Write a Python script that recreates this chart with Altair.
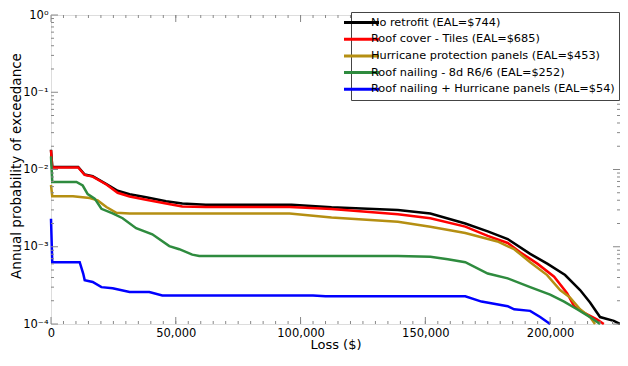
import altair as alt
import pandas as pd

series_names = [
    "No retrofit (EAL=$744)",
    "Roof cover - Tiles (EAL=$685)",
    "Hurricane protection panels (EAL=$453)",
    "Roof nailing - 8d R6/6 (EAL=$252)",
    "Roof nailing + Hurricane panels (EAL=$54)",
]
series_colors = ["#000000", "#ff0000", "#b58f12", "#2e8b3e", "#0000ff"]

black_loss = [0, 500, 10900, 13500, 16700, 22200, 26700, 31500, 38100, 46100, 52600, 62000, 96400, 112400,
              139000, 152000, 166000, 175000, 183000, 192000, 199000, 206000, 212000, 216000, 220000, 225500, 228000]
black_p = [0.018, 0.0108, 0.0108, 0.0086, 0.0082, 0.00646, 0.0053, 0.00479, 0.00437, 0.00389, 0.00363, 0.0035,
           0.0035, 0.00324, 0.00299, 0.00269, 0.0020, 0.00158, 0.00126, 0.00081, 0.0006, 0.00043, 0.000275,
           0.00019, 0.000123, 0.00011, 0.0001]

red_loss = [0, 500, 10900, 13500, 16700, 22200, 26700, 31500, 38100, 46100, 52600, 62000, 95600, 112400,
            139000, 152000, 166000, 175000, 183000, 188000, 195000, 201600, 206800, 209600, 213500, 218700, 221500]
red_p = [0.0178, 0.0106, 0.0106, 0.0085, 0.0081, 0.0064, 0.0050, 0.00447, 0.00407, 0.00363, 0.00331, 0.00327,
         0.00327, 0.00309, 0.00263, 0.00234, 0.00182, 0.00138, 0.00112, 0.00085, 0.0006, 0.00041, 0.00025,
         0.00017, 0.00014, 0.000115, 0.0001]

gold_loss = [0, 500, 8800, 15500, 18700, 22200, 26200, 31500, 95600, 112400, 139000, 152000, 166000, 178900,
             185600, 192000, 198800, 204000, 208000, 212000, 216000, 218000]
gold_p = [0.0063, 0.0045, 0.0045, 0.00427, 0.00398, 0.00327, 0.00275, 0.00269, 0.00269, 0.0024, 0.00211,
          0.00182, 0.00151, 0.00117, 0.00093, 0.00063, 0.00043, 0.000275, 0.00022, 0.000155, 0.000123, 0.0001]

green_loss = [0, 500, 10200, 12700, 14700, 17500, 20200, 24700, 28700, 34100, 40600, 47400, 51400, 56600,
              59400, 139000, 152000, 159000, 166000, 175000, 183000, 192000, 200000, 205600, 210800, 216000, 220000]
green_p = [0.0148, 0.0069, 0.0069, 0.0062, 0.0048, 0.0042, 0.0031, 0.0027, 0.00234, 0.00174, 0.00145, 0.00102,
           0.00093, 0.00079, 0.00076, 0.00076, 0.00074, 0.00069, 0.00063, 0.00045, 0.00039, 0.0003, 0.00024,
           0.000195, 0.000155, 0.000123, 0.0001]

blue_loss = [0, 500, 11500, 12900, 13500, 16700, 20200, 24700, 31500, 39400, 44600, 105000, 110000, 166000,
             172500, 183000, 185600, 192000, 196000, 200000]
blue_p = [0.0023, 0.00063, 0.00063, 0.00045, 0.00037, 0.00035, 0.0003, 0.00029, 0.00026, 0.00026, 0.000234,
          0.000234, 0.000228, 0.000228, 0.000195, 0.00017, 0.000155, 0.000148, 0.000123, 0.0001]

x_major = [0, 50000, 100000, 150000, 200000]
x_minor = list(range(5000, 228000, 5000))
y_major = [1e-4, 1e-3, 1e-2, 1e-1, 1.0]
y_minor = [k * 10.0 ** e for e in (-4, -3, -2, -1) for k in range(2, 10)]

rows = []
for name, xs, ps in zip(series_names,
                        [black_loss, red_loss, gold_loss, green_loss, blue_loss],
                        [black_p, red_p, gold_p, green_p, blue_p]):
    for i, (x, p) in enumerate(zip(xs, ps)):
        rows.append({"series": name, "loss": x, "prob": p, "i": i})
df = pd.DataFrame(rows)

W, H = 569, 309
FONT = "DejaVu Sans"
xscale = alt.Scale(domain=[0, 228000], nice=False, zero=False)
yscale = alt.Scale(type="log", domain=[1e-4, 1], nice=False)

label_expr = ("datum.value >= 1 ? '10\u2070' : datum.value >= 0.1 ? '10\u207b\u00b9' : "
              "datum.value >= 0.01 ? '10\u207b\u00b2' : datum.value >= 0.001 ? '10\u207b\u00b3' : '10\u207b\u2074'")

x_axis = alt.Axis(values=x_major, labelExpr="format(datum.value, ',')", ticks=False, domain=False, grid=False,
                  labelFlush=False, labelFontSize=11.5, labelFont=FONT, labelPadding=3, labelColor="#000",
                  titleFontSize=13, titleFont=FONT, titleFontWeight="normal", titleColor="#000",
                  titleY=20, titleBaseline="middle")
y_axis = alt.Axis(values=y_major, labelExpr=label_expr, ticks=False, domain=False, grid=False,
                  labelFlush=False, labelFontSize=11.5, labelFont=FONT, labelPadding=3, labelColor="#000",
                  titleFontSize=13.5, titleFont=FONT, titleFontWeight="normal", titleColor="#000",
                  titleX=-35, titleY=H / 2 - 4, titleBaseline="middle", titleAlign="center")
X_TITLE = "Loss ($)"
Y_TITLE = "Annual probability of exceedance"

lines = alt.Chart(df).mark_line(strokeWidth=2.5).encode(
    x=alt.X("loss:Q", scale=xscale, title=X_TITLE, axis=x_axis),
    y=alt.Y("prob:Q", scale=yscale, title=Y_TITLE, axis=y_axis),
    color=alt.Color("series:N", sort=series_names,
                    scale=alt.Scale(domain=series_names, range=series_colors),
                    legend=alt.Legend(title=None, orient="none", legendX=300, legendY=-3,
                                      symbolType="M-3.5,0H3.5", symbolSize=100, symbolStrokeWidth=3,
                                      labelFont=FONT, labelFontSize=11.3, labelColor="#000",
                                      labelLimit=400, labelOffset=3, rowPadding=3.7,
                                      padding=4, strokeColor="#444", fillColor="#ffffff")),
    order=alt.Order("i:Q"),
)

tick_color = "#888"
ymin_df = pd.DataFrame({"prob": y_minor})
ymaj_df = pd.DataFrame({"prob": y_major})
xmin_df = pd.DataFrame({"loss": x_minor})
xmaj_df = pd.DataFrame({"loss": x_major})


def yticks(d, length):
    left = alt.Chart(d).mark_rule(color=tick_color, strokeWidth=1).encode(
        y=alt.Y("prob:Q", scale=yscale, title=Y_TITLE, axis=y_axis), x=alt.value(0), x2=alt.value(length))
    right = alt.Chart(d).mark_rule(color=tick_color, strokeWidth=1).encode(
        y=alt.Y("prob:Q", scale=yscale, title=Y_TITLE, axis=y_axis), x=alt.value(W - length), x2=alt.value(W))
    return [left, right]


def xticks(d, length):
    bottom = alt.Chart(d).mark_rule(color=tick_color, strokeWidth=1).encode(
        x=alt.X("loss:Q", scale=xscale, title=X_TITLE, axis=x_axis), y=alt.value(H - length), y2=alt.value(H))
    top = alt.Chart(d).mark_rule(color=tick_color, strokeWidth=1).encode(
        x=alt.X("loss:Q", scale=xscale, title=X_TITLE, axis=x_axis), y=alt.value(0), y2=alt.value(length))
    return [bottom, top]


layers = [lines] + yticks(ymin_df, 3) + yticks(ymaj_df, 7) + xticks(xmin_df, 3) + xticks(xmaj_df, 7)

chart = alt.layer(*layers).properties(
    width=W, height=H,
    autosize=alt.AutoSizeParams(type="none"),
    padding={"left": 43, "top": 7, "right": 0, "bottom": 26},
).configure_view(stroke="#888", strokeWidth=1).configure(background="#ffffff")

chart.save("out.html", embed_options={"renderer": "svg", "actions": False})
